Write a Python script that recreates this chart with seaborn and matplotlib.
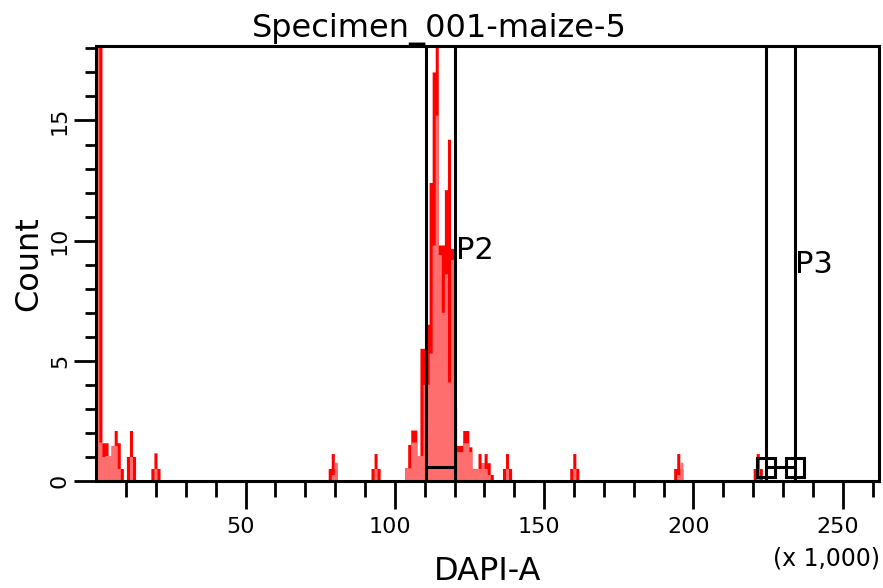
import numpy as np
import pandas as pd
import matplotlib.pyplot as plt
import matplotlib.transforms as mtransforms
import seaborn as sns
from matplotlib.patches import Rectangle

# DAPI-A histogram, bin centres in thousands (256 channels of 1.024)
dapi_centres = [0.51, 1.54, 2.56, 3.58, 4.61, 5.63, 6.66, 7.68, 8.70, 10.75,
                11.78, 12.80, 18.94, 19.97, 20.99, 78.34, 79.36, 80.38, 92.67, 93.70,
                94.72, 103.94, 104.96, 105.98, 107.01, 108.03, 109.06, 110.08, 111.10, 112.13,
                113.15, 114.18, 115.20, 116.22, 117.25, 118.27, 119.30, 120.32, 121.34, 122.37,
                123.39, 124.42, 125.44, 126.46, 127.49, 128.51, 129.54, 130.56, 131.58, 132.61,
                136.70, 137.73, 138.75, 159.23, 160.26, 161.28, 194.05, 195.07, 196.10, 220.67,
                221.70, 222.72]
# raw counts (red)
raw_counts = [40, 40, 1.57, 1.57, 1.04, 1.46, 2.08, 1.57, 0.5, 1.0,
              2.08, 1.0, 0.5, 1.15, 0.5, 0.5, 1.12, 0.5, 0.5, 1.12,
              0.5, 0.53, 1.5, 2.1, 2.1, 1.04, 5.5, 5.5, 6.5, 12.4,
              17.0, 18.5, 9.8, 9.8, 12.1, 14.2, 9.65, 3.05, 1.46, 1.46,
              2.08, 2.08, 1.4, 0.5, 0.5, 1.12, 0.74, 1.12, 0.74, 0.25,
              0.5, 1.12, 0.5, 0.5, 1.12, 0.5, 0.5, 1.12, 0.5, 0.5,
              1.12, 0.5]
# smoothed counts (light fill)
smooth_counts = [40, 1.6, 1.0, 1.04, 1.04, 1.46, 1.46, 0.5, 0, 0,
                 1.0, 0, 0, 0.5, 0, 0, 0.25, 0.76, 0, 0.5,
                 0, 0.53, 0.53, 1.6, 1.6, 1.04, 1.04, 4.0, 4.0, 5.3,
                 9.8, 15.2, 9.4, 7.0, 8.6, 4.1, 9.2, 1.6, 1.2, 1.2,
                 1.57, 1.57, 1.2, 0.5, 0.5, 0.5, 0.74, 0.5, 0.25, 0,
                 0, 0.5, 0, 0, 0.5, 0, 0, 0.25, 0.76, 0,
                 0.5, 0]

# interval gates
gate_names = ['P2', 'P3']
gate_low = [110.5, 224.3]
gate_high = [120.2, 233.9]
gate_level = [0.6, 0.57]
gate_label_y = [9.6, 9.0]

x_ticks = [50, 100, 150, 200, 250]
y_ticks = [0, 5, 10, 15]

df = pd.DataFrame({'dapi': dapi_centres, 'raw': raw_counts, 'smooth': smooth_counts})

sns.set_theme(style='ticks')
plt.rcParams['font.family'] = ['DejaVu Sans']
plt.rcParams.update({'text.color': 'black', 'axes.labelcolor': 'black',
                     'xtick.color': 'black', 'ytick.color': 'black'})

fig = plt.figure(figsize=(8.83, 5.88), dpi=100)
ax = fig.add_axes([0.1091, 0.182, 0.8864, 0.7398])

sns.histplot(data=df, x='dapi', weights='raw', binwidth=1.024, binrange=(0, 262.144),
             element='step', fill=True, color='#ff0000', alpha=1, linewidth=0, ax=ax)
sns.histplot(data=df, x='dapi', weights='smooth', binwidth=1.024, binrange=(0, 262.144),
             element='step', fill=True, color='#ff6e6e', alpha=1, linewidth=0, ax=ax)

ax.set_xlim(0, 262.144)
ax.set_ylim(0, 18.1)

# gates
for name, lo, hi, lev, ly in zip(gate_names, gate_low, gate_high, gate_level, gate_label_y):
    ax.axvline(lo, color='black', lw=2.2, zorder=4)
    ax.axvline(hi, color='black', lw=2.2, zorder=4)
    ax.hlines(lev, lo, hi, color='black', lw=2.2, zorder=4)
    ax.text(hi + 0.1, ly, name, fontsize=22, ha='left', va='center')
# drag handles on the selected gate
for gx in (gate_low[1], gate_high[1]):
    ax.add_patch(Rectangle((gx - 3.05, gate_level[1] - 0.4), 6.1, 0.8, fill=False,
                           edgecolor='black', lw=2.2, zorder=5))

ax.set_xticks(x_ticks)
ax.set_xticks(np.arange(10, 262, 10), minor=True)
ax.set_yticks(y_ticks)
ax.set_yticks(np.arange(1, 19, 1), minor=True)
ax.tick_params(axis='x', which='major', direction='out', length=20, width=2,
               pad=6, labelsize=16)
ax.tick_params(axis='x', which='minor', direction='out', length=11.5, width=2)
ax.tick_params(axis='y', which='major', direction='out', length=16, width=2,
               pad=3, labelsize=16, labelrotation=90)
ax.tick_params(axis='y', which='minor', direction='out', length=8, width=2)
for lab in ax.get_yticklabels():
    lab.set_va('center')
# x labels sit a little left of their ticks
shift = mtransforms.ScaledTranslation(-0.05, 0, fig.dpi_scale_trans)
for lab in ax.get_xticklabels():
    lab.set_transform(lab.get_transform() + shift)

for s in ax.spines.values():
    s.set_visible(True)
    s.set_linewidth(2.2)
    s.set_color('black')

ax.set_xlabel('DAPI-A', fontsize=23)
ax.xaxis.set_label_coords(0.5, -0.172)
ax.set_ylabel('Count', fontsize=23)
ax.yaxis.set_label_coords(-0.067, 0.5)
ax.set_title('Specimen_001-maize-5', fontsize=23, x=0.438, y=1.021, pad=0)
fig.text(0.997, 0.051, '(x 1,000)', fontsize=17, ha='right', va='center')

fig.savefig('out.png', dpi=100, facecolor='white')
